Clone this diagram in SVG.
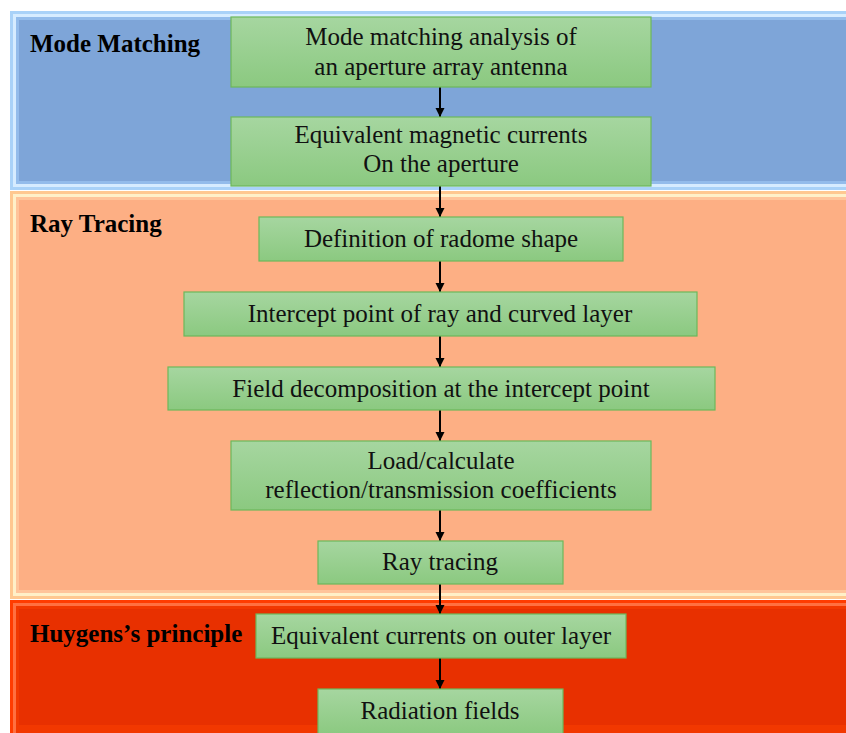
<svg xmlns="http://www.w3.org/2000/svg" width="846" height="733" viewBox="0 0 846 733">
  <defs>
    <linearGradient id="g" x1="0" y1="0" x2="0" y2="1">
      <stop offset="0" stop-color="#A6D6A0"/>
      <stop offset="1" stop-color="#8BC980"/>
    </linearGradient>
    <marker id="ah" viewBox="0 0 10 10" refX="10" refY="5" markerWidth="9" markerHeight="10" markerUnits="userSpaceOnUse" orient="auto">
      <path d="M0,0 L10,5 L0,10 Z" fill="#000"/>
    </marker>
    <style>
      .box { fill: url(#g); stroke: #6DB85A; stroke-width: 1.2; }
      .t { font-family: "Liberation Serif", "Times New Roman", serif; font-size: 25px; fill: #111; text-anchor: middle; }
      .lbl { font-family: "Liberation Serif", "Times New Roman", serif; font-size: 25px; font-weight: bold; fill: #000; }
      .arr { stroke: #000; stroke-width: 2; fill: none; marker-end: url(#ah); }
    </style>
  </defs>
  <rect width="846" height="733" fill="#fff"/>

  <g id="panel-mode">
    <rect x="10" y="11" width="840" height="179" fill="#A9D2F8"/>
    <rect x="13" y="14" width="840" height="173" fill="#D6ECFF"/>
    <rect x="16" y="17" width="840" height="167" fill="#93BCEB"/>
    <rect x="19" y="20" width="840" height="161" fill="#7EA5D8"/>
    <text class="lbl" x="30" y="52">Mode Matching</text>
  </g>
  <g id="panel-ray">
    <rect x="10" y="191" width="840" height="408" fill="#FFC890"/>
    <rect x="13" y="194" width="840" height="402" fill="#FFF0C8"/>
    <rect x="16" y="197" width="840" height="396" fill="#FFC49A"/>
    <rect x="19" y="200" width="840" height="390" fill="#FDAF84"/>
    <text class="lbl" x="30" y="232">Ray Tracing</text>
  </g>
  <g id="panel-huygens">
    <rect x="10" y="600" width="840" height="140" fill="#FF3C00"/>
    <rect x="13" y="603" width="840" height="140" fill="#FF7040"/>
    <rect x="16" y="606" width="840" height="140" fill="#F23800"/>
    <rect x="19" y="609" width="840" height="116" fill="#E83000"/>
    <text class="lbl" x="30" y="642">Huygens’s principle</text>
  </g>

  <g id="connectors">
    <line class="arr" x1="440" y1="87" x2="440" y2="117"/>
    <line class="arr" x1="440" y1="186" x2="440" y2="217"/>
    <line class="arr" x1="440" y1="261" x2="440" y2="292"/>
    <line class="arr" x1="440" y1="336" x2="440" y2="367"/>
    <line class="arr" x1="440" y1="410" x2="440" y2="441"/>
    <line class="arr" x1="440" y1="510" x2="440" y2="541"/>
    <line class="arr" x1="440" y1="584" x2="440" y2="614"/>
    <line class="arr" x1="440" y1="658" x2="440" y2="689"/>
  </g>

  <g id="n1">
    <rect class="box" x="231" y="17" width="420" height="70"/>
    <text class="t" x="441" y="45">Mode matching analysis of</text>
    <text class="t" x="441" y="75">an aperture array antenna</text>
  </g>
  <g id="n2">
    <rect class="box" x="231" y="117" width="420" height="69"/>
    <text class="t" x="441" y="143">Equivalent magnetic currents</text>
    <text class="t" x="441" y="172">On the aperture</text>
  </g>
  <g id="n3">
    <rect class="box" x="259" y="217" width="364" height="44"/>
    <text class="t" x="441" y="247">Definition of radome shape</text>
  </g>
  <g id="n4">
    <rect class="box" x="184" y="292" width="513" height="44"/>
    <text class="t" x="440" y="322">Intercept point of ray and curved layer</text>
  </g>
  <g id="n5">
    <rect class="box" x="168" y="367" width="547" height="43"/>
    <text class="t" x="441" y="397">Field decomposition at the intercept point</text>
  </g>
  <g id="n6">
    <rect class="box" x="231" y="441" width="420" height="69"/>
    <text class="t" x="441" y="469">Load/calculate</text>
    <text class="t" x="441" y="498">reflection/transmission coefficients</text>
  </g>
  <g id="n7">
    <rect class="box" x="318" y="541" width="245" height="43"/>
    <text class="t" x="440" y="570">Ray tracing</text>
  </g>
  <g id="n8">
    <rect class="box" x="256" y="614" width="370" height="44"/>
    <text class="t" x="441" y="644">Equivalent currents on outer layer</text>
  </g>
  <g id="n9">
    <rect class="box" x="318" y="689" width="245" height="46"/>
    <text class="t" x="440" y="719">Radiation fields</text>
  </g>
</svg>
